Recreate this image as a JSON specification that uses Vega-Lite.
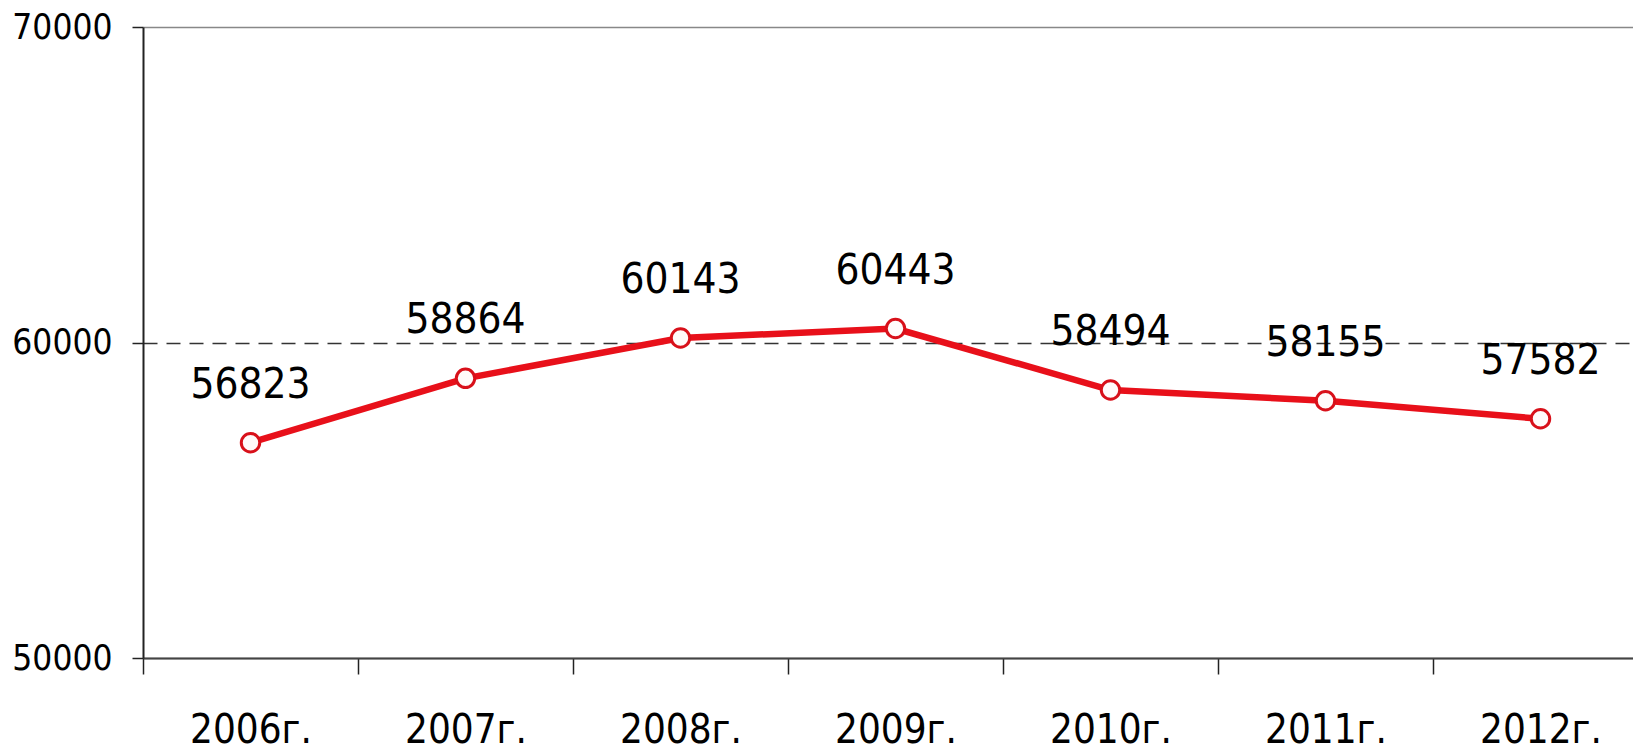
{
  "$schema": "https://vega.github.io/schema/vega-lite/v6.json",
  "width": 1490,
  "height": 631,
  "autosize": {"type": "none"},
  "padding": {"left": 143, "top": 27, "right": 0, "bottom": 95},
  "background": "white",
  "config": {"view": {"stroke": null}, "font": "DejaVu Sans Condensed, sans-serif"},
  "data": {
    "values": [
      {"year": "2006г.", "value": 56823},
      {"year": "2007г.", "value": 58864},
      {"year": "2008г.", "value": 60143},
      {"year": "2009г.", "value": 60443},
      {"year": "2010г.", "value": 58494},
      {"year": "2011г.", "value": 58155},
      {"year": "2012г.", "value": 57582}
    ]
  },
  "encoding": {
    "x": {
      "field": "year",
      "type": "ordinal",
      "sort": null,
      "scale": {"type": "band", "range": [0, 1505], "paddingInner": 0, "paddingOuter": 0},
      "axis": {
        "title": null,
        "labelAngle": 0,
        "labelFontSize": 40,
        "labelColor": "black",
        "labelPadding": 36,
        "labelOverlap": false,
        "labelLimit": 300,
        "domain": true,
        "domainColor": "#444",
        "domainWidth": 2,
        "ticks": true,
        "tickBand": "extent",
        "tickSize": 16,
        "tickColor": "#222",
        "tickWidth": 1.5,
        "grid": false
      }
    },
    "y": {
      "field": "value",
      "type": "quantitative",
      "scale": {"domain": [50000, 70000], "nice": false, "zero": false},
      "axis": {
        "title": null,
        "values": [50000, 60000, 70000],
        "format": "d",
        "labelFontSize": 35,
        "labelColor": "black",
        "labelPadding": 20,
        "domain": true,
        "domainColor": "#222",
        "domainWidth": 2,
        "ticks": true,
        "tickSize": 11,
        "tickColor": "#222",
        "tickWidth": 1.5,
        "grid": true,
        "gridColor": {"condition": {"test": "datum.value === 60000", "value": "#333"}, "value": "#888"},
        "gridDash": {"condition": {"test": "datum.value === 60000", "value": [14, 9]}, "value": []},
        "gridWidth": 1.5
      }
    }
  },
  "layer": [
    {"mark": {"type": "line", "color": "#e8101a", "strokeWidth": 6.5}},
    {"mark": {"type": "point", "shape": "circle", "filled": true, "fill": "#fffafa", "stroke": "#d8101a", "strokeWidth": 3, "size": 340, "opacity": 1}},
    {
      "mark": {"type": "text", "dy": -58, "fontSize": 42, "color": "black", "baseline": "middle", "align": "center"},
      "encoding": {"text": {"field": "value", "type": "quantitative", "format": "d"}}
    }
  ]
}
